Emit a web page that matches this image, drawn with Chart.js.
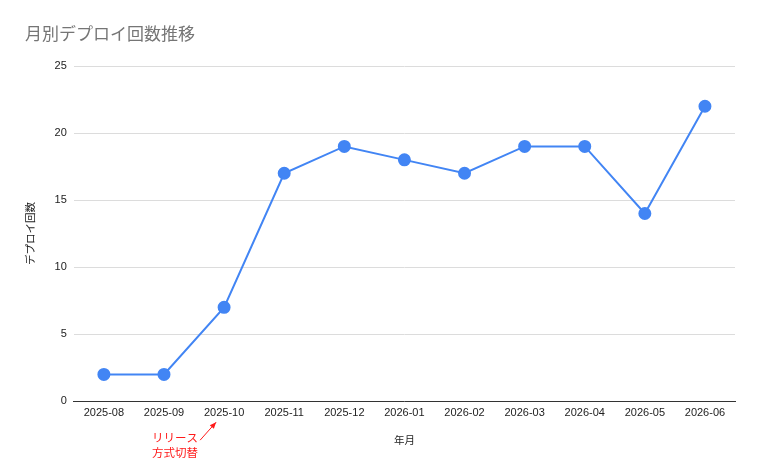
<!DOCTYPE html>
<html><head><meta charset="utf-8">
<script src="https://cdn.jsdelivr.net/npm/chart.js@4.4.1/dist/chart.umd.min.js"></script>
<style>html,body{margin:0;padding:0;background:#fff}#c{display:block}</style>
</head><body>
<div style="width:759px;height:470px"><canvas id="c" width="759" height="470"></canvas></div>
<script>
const categories = ['2025-08','2025-09','2025-10','2025-11','2025-12','2026-01','2026-02','2026-03','2026-04','2026-05','2026-06'];
const deployCounts = [2,2,7,17,19,18,17,19,19,14,22];
const yTicks = [0,5,10,15,20,25];
const titleText = '月別デプロイ回数推移';
const xTitle = '年月';
const yTitle = 'デプロイ回数';
const noteLines = ['リリース','方式切替'];
const noteIndex = 2;

const FONT = '"Noto Sans CJK JP", Roboto, "Liberation Sans", sans-serif';
const TFONT = '"Liberation Sans", "Noto Sans CJK JP", sans-serif';

const titlePlug = {
  id:'titlePlug',
  afterDraw(chart){
    const ctx = chart.ctx;
    ctx.save();
    ctx.fillStyle = '#757575';
    ctx.font = '17px ' + FONT;
    ctx.textAlign = 'left';
    ctx.textBaseline = 'middle';
    ctx.fillText(titleText, 25, 34);
    ctx.restore();
  }
};

const annot = {
  id:'annot',
  afterDraw(chart){
    const ctx = chart.ctx, xs = chart.scales.x;
    const px = xs.getPixelForValue(noteIndex);
    const top = chart.chartArea.bottom;
    ctx.save();
    ctx.fillStyle = '#ff1a1a';
    ctx.strokeStyle = '#ff1a1a';
    ctx.font = '11.5px ' + FONT;
    ctx.textAlign = 'center';
    ctx.textBaseline = 'middle';
    const cx = px - 49;
    ctx.fillText(noteLines[0], cx, top + 36);
    ctx.fillText(noteLines[1], cx, top + 51);
    const x1 = px - 24, y1 = top + 39, x2 = px - 8, y2 = top + 21;
    ctx.lineWidth = 1;
    ctx.beginPath(); ctx.moveTo(x1,y1); ctx.lineTo(x2,y2); ctx.stroke();
    const ang = Math.atan2(y2-y1, x2-x1);
    ctx.beginPath();
    ctx.moveTo(x2,y2);
    ctx.lineTo(x2 - 7*Math.cos(ang-0.4), y2 - 7*Math.sin(ang-0.4));
    ctx.lineTo(x2 - 7*Math.cos(ang+0.4), y2 - 7*Math.sin(ang+0.4));
    ctx.closePath(); ctx.fill();
    ctx.restore();
  }
};

new Chart(document.getElementById('c'), {
  type:'line',
  data:{ labels: categories, datasets:[{
    data: deployCounts,
    borderColor:'#4285F4', backgroundColor:'#4285F4',
    borderWidth:2, pointRadius:5.5, pointHoverRadius:5.5,
    pointBackgroundColor:'#4285F4', pointBorderColor:'#4285F4',
    tension:0
  }]},
  options:{
    responsive:false, animation:false,
    layout:{ padding:{ left:20, right:24, top:66, bottom:20 } },
    plugins:{
      legend:{display:false}, tooltip:{enabled:false}, title:{display:false}
    },
    scales:{
      x:{
        offset:true,
        grid:{ display:false, drawTicks:false },
        border:{ display:true, color:'#333', width:1 },
        ticks:{ color:'#222', font:{ family:TFONT, size:11 }, padding:5, maxRotation:0, autoSkip:false },
        title:{ display:true, text:xTitle, color:'#222', font:{ family:FONT, size:10.5 }, padding:{ top:9 } }
      },
      y:{
        min:0, max:25,
        afterBuildTicks(s){ s.ticks = yTicks.map(v=>({value:v})); },
        grid:{ color:'#dcdcdc', drawTicks:false },
        border:{ display:false },
        ticks:{ color:'#222', font:{ family:TFONT, size:11 }, padding:7 },
        title:{ display:true, text:yTitle, color:'#222', font:{ family:FONT, size:10.5 }, padding:{ bottom:11 } }
      }
    }
  },
  plugins:[titlePlug, annot]
});
</script>
</body></html>
